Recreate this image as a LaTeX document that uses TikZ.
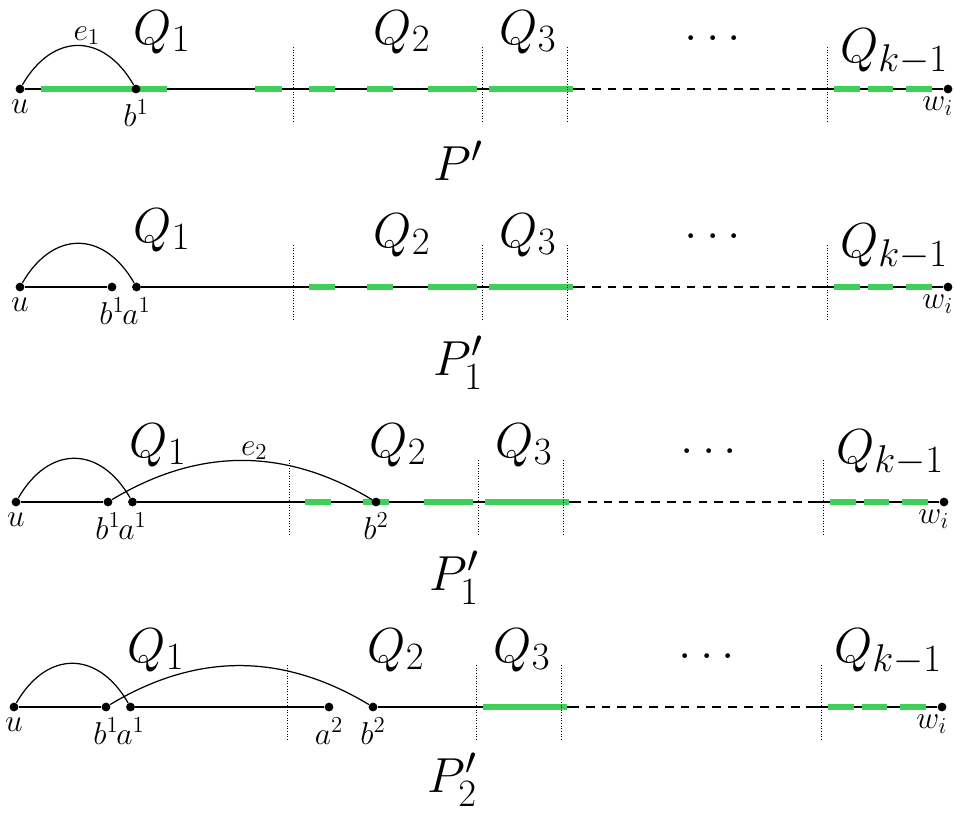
\RequirePackage{fix-cm}
\documentclass[tikz,border=0pt]{standalone}
\usepackage{amsmath,amssymb}
\usepackage{xcolor}
\usetikzlibrary{positioning,backgrounds}
\definecolor{hlgreen}{RGB}{64,208,90}
\DeclareMathSizes{28}{28}{22}{17}
\DeclareMathSizes{18}{18}{13}{10}

\begin{document}
\begin{tikzpicture}[x=0.02cm, y=0.02cm]

\tikzstyle{vertex}=[circle,fill=black,inner sep=0pt,minimum size=5pt]
\tikzstyle{lbl}=[inner sep=1pt,font=\fontsize{18}{22}\selectfont]
\tikzstyle{elbl}=[inner sep=1pt,font=\fontsize{18}{22}\selectfont]
\tikzstyle{seg}=[anchor=base,inner sep=0pt,font=\fontsize{28}{34}\selectfont]
\tikzstyle{pth}=[anchor=base west,inner sep=0pt,font=\fontsize{28}{34}\selectfont]
\tikzstyle{trail}=[line width=1.6pt]
\tikzstyle{gaps}=[line width=1.6pt,dash pattern=on 5pt off 4pt]
\tikzstyle{hl}=[hlgreen,line width=3pt]
\tikzstyle{cut}=[densely dotted,line width=0.5pt]
\tikzstyle{edge}=[line width=0.7pt]
\tikzstyle{hop}=[out=60,in=120,looseness=1.4]

\useasboundingbox (0,0) rectangle (955,-812);

% P'
\begin{scope}[shift={(0,-89)}]
\node (r1q1) [seg] at (162,45) {$Q_1$};
\node (r1q2) [seg] at (402,45) {$Q_2$};
\node (r1q3) [seg] at (528,45) {$Q_3$};
\node (r1dots) [seg] at (713,49) {$\ldots$};
\node (r1qk) [seg] at (894,27) {$Q_{k-1}$};
\node (r1p) [pth] at (433,-91) {$P'$};

\node (r1u) [vertex] at (20,0) {};
\node (r1b) [vertex] at (136,0) {};
\node (r1w) [vertex] at (948,0) {};
\coordinate (r1s) at (576,0);
\coordinate (r1t) at (812,0);

\node [lbl,below=2.5pt of r1u] {$u$};
\node [lbl,below=2.5pt of r1b] {$b^1$};
\node [lbl,below left=1.5pt and -6pt of r1w] {$w_i$};

\begin{scope}[on background layer]
\draw[trail] (r1u) -- (r1b) -- (r1s);
\draw[gaps] (r1s) -- (r1t);
\draw[trail] (r1t) -- (r1w);
\draw[hl] (41,0) -- (133,0) (137,0) -- (167,0) (255,0) -- (282,0)
  (309,0) -- (335,0) (367,0) -- (393,0) (428,0) -- (477,0) (489,0) -- (573,0)
  (834,0) -- (860,0) (868,0) -- (893,0) (906,0) -- (932,0);
\foreach \x in {293,482,567,827} \draw[cut] (\x,42) -- (\x,-32);
\end{scope}

\draw[edge] (r1u) to[hop] node[elbl,midway,above=-1pt,xshift=5pt] {$e_1$} (r1b);
\end{scope}

% P'_1
\begin{scope}[shift={(0,-287)}]
\node (r2q1) [seg] at (162,45) {$Q_1$};
\node (r2q2) [seg] at (402,40) {$Q_2$};
\node (r2q3) [seg] at (528,40) {$Q_3$};
\node (r2dots) [seg] at (713,49) {$\ldots$};
\node (r2qk) [seg] at (894,30) {$Q_{k-1}$};
\node (r2p) [pth] at (433,-88) {$P'_1$};

\node (r2u) [vertex] at (20,0) {};
\node (r2b) [vertex] at (112,0) {};
\node (r2a) [vertex] at (136.5,0) {};
\node (r2w) [vertex] at (948,0) {};
\coordinate (r2s) at (576,0);
\coordinate (r2t) at (812,0);

\node [lbl,below=2.5pt of r2u] {$u$};
\node [lbl,below=2.5pt of r2b] {$b^1$};
\node [lbl,below=2.5pt of r2a] {$a^1$};
\node [lbl,below left=1.5pt and -6pt of r2w] {$w_i$};

\begin{scope}[on background layer]
\draw[trail] (r2u) -- (r2b);
\draw[trail] (r2a) -- (r2s);
\draw[gaps] (r2s) -- (r2t);
\draw[trail] (r2t) -- (r2w);
\draw[hl] (309,0) -- (335,0) (367,0) -- (393,0) (428,0) -- (477,0) (489,0) -- (573,0)
  (834,0) -- (860,0) (868,0) -- (893,0) (906,0) -- (932,0);
\foreach \x in {293,482,567,827} \draw[cut] (\x,42) -- (\x,-32);
\end{scope}

\draw[edge] (r2u) to[hop] (r2a);
\end{scope}

% P'_1 with e_2
\begin{scope}[shift={(-4,-502)}]
\node (r3q1) [seg] at (162,45) {$Q_1$};
\node (r3q2) [seg] at (402,45) {$Q_2$};
\node (r3q3) [seg] at (528,45) {$Q_3$};
\node (r3dots) [seg] at (713,49) {$\ldots$};
\node (r3qk) [seg] at (894,39) {$Q_{k-1}$};
\node (r3p) [pth] at (433,-88) {$P'_1$};

\node (r3u) [vertex] at (20,0) {};
\node (r3b1) [vertex] at (112,0) {};
\node (r3a1) [vertex] at (136.5,0) {};
\node (r3b2) [vertex] at (380,0) {};
\node (r3w) [vertex] at (948,0) {};
\coordinate (r3s) at (576,0);
\coordinate (r3t) at (812,0);

\node [lbl,below=2.5pt of r3u] {$u$};
\node [lbl,below=2.5pt of r3b1] {$b^1$};
\node [lbl,below=2.5pt of r3a1] {$a^1$};
\node [lbl,below=2.5pt of r3b2] {$b^2$};
\node [lbl,below left=1.5pt and -6pt of r3w] {$w_i$};

\begin{scope}[on background layer]
\draw[trail] (r3u) -- (r3b1);
\draw[trail] (r3a1) -- (r3b2) -- (r3s);
\draw[gaps] (r3s) -- (r3t);
\draw[trail] (r3t) -- (r3w);
\draw[hl] (309,0) -- (335,0) (367,0) -- (393,0) (428,0) -- (477,0) (489,0) -- (573,0)
  (834,0) -- (860,0) (868,0) -- (893,0) (906,0) -- (932,0);
\foreach \x in {293,482,567,827} \draw[cut] (\x,42) -- (\x,-32);
\end{scope}

\draw[edge] (r3u) to[hop] (r3a1);
\draw[edge] (r3b1) to[bend left=31] node[elbl,midway,above=-1pt,xshift=7pt] {$e_2$} (r3b2);
\end{scope}

% P'_2
\begin{scope}[shift={(-6,-707)}]
\node (r4q1) [seg] at (162,45) {$Q_1$};
\node (r4q2) [seg] at (402,45) {$Q_2$};
\node (r4q3) [seg] at (528,45) {$Q_3$};
\node (r4dots) [seg] at (713,49) {$\ldots$};
\node (r4qk) [seg] at (894,45) {$Q_{k-1}$};
\node (r4p) [pth] at (433,-85) {$P'_2$};

\node (r4u) [vertex] at (20,0) {};
\node (r4b1) [vertex] at (112,0) {};
\node (r4a1) [vertex] at (136.5,0) {};
\node (r4a2) [vertex] at (335,0) {};
\node (r4b2) [vertex] at (379,0) {};
\node (r4w) [vertex] at (948,0) {};
\coordinate (r4s) at (576,0);
\coordinate (r4t) at (812,0);

\node [lbl,below=2.5pt of r4u] {$u$};
\node [lbl,below=2.5pt of r4b1] {$b^1$};
\node [lbl,below=2.5pt of r4a1] {$a^1$};
\node [lbl,below=2.5pt of r4a2] {$a^2$};
\node [lbl,below=2.5pt of r4b2] {$b^2$};
\node [lbl,below left=1.5pt and -6pt of r4w] {$w_i$};

\begin{scope}[on background layer]
\draw[trail] (r4u) -- (r4b1);
\draw[trail] (r4a1) -- (r4a2);
\draw[trail] (r4b2) -- (r4s);
\draw[gaps] (r4s) -- (r4t);
\draw[trail] (r4t) -- (r4w);
\draw[hl] (489,0) -- (573,0)
  (834,0) -- (860,0) (868,0) -- (893,0) (906,0) -- (932,0);
\foreach \x in {293,482,567,827} \draw[cut] (\x,42) -- (\x,-32);
\end{scope}

\draw[edge] (r4u) to[hop] (r4a1);
\draw[edge] (r4b1) to[bend left=31] (r4b2);
\end{scope}

\end{tikzpicture}
\end{document}
